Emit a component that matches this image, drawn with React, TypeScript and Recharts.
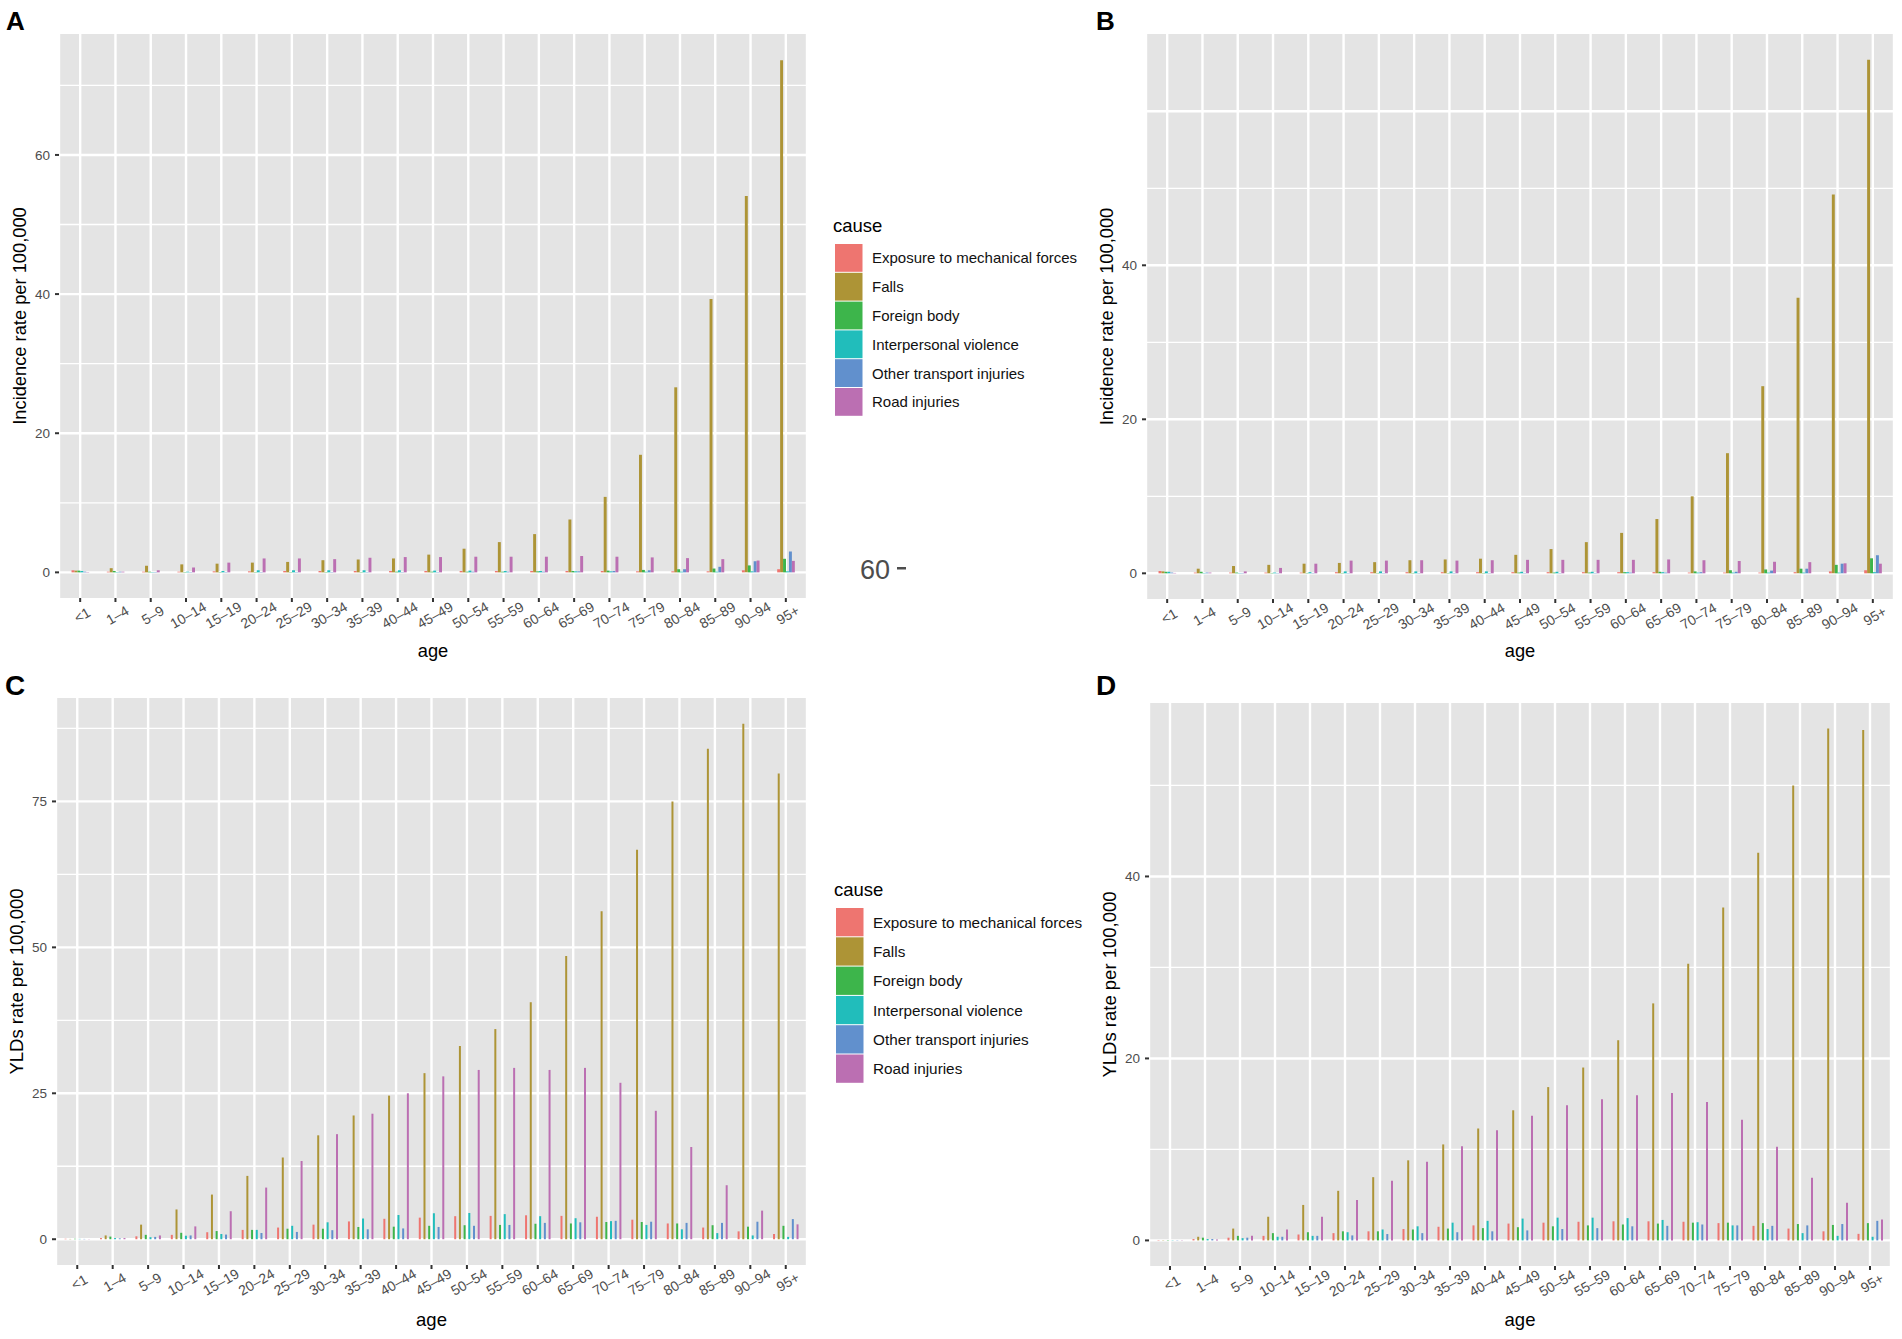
import React from 'react';
import { BarChart, Bar, XAxis, YAxis, CartesianGrid } from 'recharts';

const FONT = "'Liberation Sans', Arial, Helvetica, sans-serif";

const ages = ['<1', '1–4', '5–9', '10–14', '15–19', '20–24', '25–29', '30–34', '35–39', '40–44', '45–49', '50–54', '55–59', '60–64', '65–69', '70–74', '75–79', '80–84', '85–89', '90–94', '95+'];
const causes = ['Exposure to mechanical forces', 'Falls', 'Foreign body', 'Interpersonal violence', 'Other transport injuries', 'Road injuries'];
const causeKeys = ['exposure', 'falls', 'foreign', 'violence', 'transport', 'road'];
const causeColors = ['#EE7570', '#AD9436', '#3DB54B', '#21BDBB', '#6190CD', '#BB6FB2'];

// Panel A – incidence rate
const aExposure = [0.3, 0.1, 0.1, 0.1, 0.15, 0.15, 0.2, 0.2, 0.2, 0.2, 0.2, 0.2, 0.2, 0.2, 0.2, 0.2, 0.15, 0.15, 0.15, 0.3, 0.45];
const aFalls = [0.25, 0.6, 0.95, 1.15, 1.25, 1.4, 1.5, 1.75, 1.85, 2.0, 2.55, 3.4, 4.35, 5.5, 7.6, 10.85, 16.9, 26.6, 39.3, 54.1, 73.6];
const aForeign = [0.25, 0.2, 0.1, 0.05, 0.05, 0.05, 0.05, 0.05, 0.05, 0.1, 0.1, 0.1, 0.1, 0.15, 0.2, 0.25, 0.35, 0.45, 0.55, 1.0, 1.95];
const aViolence = [0.2, 0.05, 0.05, 0.1, 0.2, 0.3, 0.3, 0.3, 0.3, 0.3, 0.25, 0.25, 0.2, 0.2, 0.15, 0.15, 0.1, 0.1, 0.1, 0.15, 0.15];
const aTransport = [0.1, 0.1, 0.05, 0.05, 0.05, 0.05, 0.05, 0.05, 0.05, 0.05, 0.05, 0.1, 0.1, 0.1, 0.15, 0.2, 0.3, 0.45, 0.8, 1.6, 3.0];
const aRoad = [0.05, 0.1, 0.3, 0.7, 1.4, 2.0, 2.0, 1.9, 2.1, 2.2, 2.2, 2.25, 2.25, 2.25, 2.35, 2.25, 2.15, 2.05, 1.9, 1.7, 1.65];

// Panel B – incidence rate
const bExposure = [0.3, 0.1, 0.1, 0.1, 0.1, 0.15, 0.15, 0.15, 0.15, 0.15, 0.15, 0.15, 0.15, 0.15, 0.15, 0.1, 0.1, 0.1, 0.15, 0.25, 0.4];
const bFalls = [0.25, 0.6, 0.95, 1.1, 1.25, 1.35, 1.45, 1.7, 1.8, 1.9, 2.4, 3.15, 4.05, 5.25, 7.05, 10.0, 15.6, 24.3, 35.8, 49.2, 66.7];
const bForeign = [0.2, 0.2, 0.1, 0.05, 0.05, 0.05, 0.05, 0.05, 0.05, 0.05, 0.1, 0.1, 0.1, 0.15, 0.2, 0.25, 0.4, 0.5, 0.6, 1.1, 1.95];
const bViolence = [0.2, 0.05, 0.05, 0.1, 0.15, 0.25, 0.25, 0.25, 0.25, 0.25, 0.2, 0.2, 0.2, 0.15, 0.15, 0.1, 0.1, 0.1, 0.1, 0.1, 0.15];
const bTransport = [0.1, 0.1, 0.05, 0.05, 0.05, 0.05, 0.05, 0.05, 0.05, 0.05, 0.05, 0.05, 0.05, 0.1, 0.1, 0.15, 0.2, 0.35, 0.6, 1.25, 2.35];
const bRoad = [0.05, 0.1, 0.25, 0.7, 1.25, 1.65, 1.65, 1.7, 1.65, 1.7, 1.75, 1.75, 1.75, 1.75, 1.8, 1.7, 1.6, 1.5, 1.45, 1.3, 1.25];

// Panel C – YLDs rate
const cExposure = [0.08, 0.2, 0.5, 0.75, 1.2, 1.6, 2.0, 2.5, 3.05, 3.5, 3.7, 3.95, 4.0, 4.1, 4.0, 3.85, 3.35, 2.7, 2.0, 1.35, 0.9];
const cFalls = [0.05, 0.65, 2.5, 5.1, 7.65, 10.85, 14.0, 17.8, 21.2, 24.6, 28.45, 33.1, 36.0, 40.6, 48.5, 56.2, 66.7, 75.0, 84.0, 88.3, 79.8];
const cForeign = [0.08, 0.45, 0.75, 1.1, 1.4, 1.6, 1.8, 1.8, 2.1, 2.15, 2.3, 2.4, 2.45, 2.65, 2.7, 2.95, 2.95, 2.7, 2.4, 2.15, 2.3];
const cViolence = [0.06, 0.2, 0.35, 0.6, 0.9, 1.6, 2.3, 2.9, 3.55, 4.15, 4.45, 4.5, 4.3, 3.95, 3.6, 3.1, 2.45, 1.7, 1.05, 0.65, 0.4];
const cTransport = [0.05, 0.15, 0.4, 0.65, 0.8, 1.05, 1.25, 1.55, 1.7, 1.85, 2.1, 2.3, 2.45, 2.8, 2.9, 3.15, 3.0, 2.8, 2.8, 3.0, 3.45];
const cRoad = [0.03, 0.2, 0.65, 2.2, 4.8, 8.85, 13.4, 18.0, 21.5, 25.0, 27.9, 29.0, 29.35, 29.0, 29.35, 26.8, 22.0, 15.8, 9.25, 4.9, 2.55];

// Panel D – YLDs rate
const dExposure = [0.04, 0.15, 0.3, 0.5, 0.65, 0.8, 1.0, 1.25, 1.5, 1.65, 1.85, 1.95, 2.05, 2.1, 2.1, 2.05, 1.9, 1.6, 1.3, 1.0, 0.72];
const dFalls = [0.03, 0.4, 1.3, 2.6, 3.9, 5.45, 6.95, 8.8, 10.55, 12.3, 14.3, 16.85, 19.0, 22.0, 26.05, 30.4, 36.6, 42.6, 50.0, 56.25, 56.1];
const dForeign = [0.04, 0.3, 0.5, 0.8, 0.9, 1.0, 1.0, 1.2, 1.3, 1.35, 1.45, 1.55, 1.65, 1.75, 1.85, 1.95, 1.95, 1.9, 1.8, 1.7, 1.9];
const dViolence = [0.03, 0.15, 0.25, 0.4, 0.5, 0.9, 1.2, 1.55, 1.95, 2.15, 2.4, 2.5, 2.5, 2.45, 2.25, 2.0, 1.65, 1.25, 0.8, 0.5, 0.4];
const dTransport = [0.03, 0.15, 0.3, 0.4, 0.5, 0.55, 0.7, 0.8, 0.9, 1.0, 1.1, 1.25, 1.35, 1.55, 1.6, 1.75, 1.65, 1.6, 1.65, 1.8, 2.15];
const dRoad = [0.02, 0.1, 0.5, 1.2, 2.6, 4.45, 6.55, 8.65, 10.35, 12.1, 13.7, 14.85, 15.5, 15.95, 16.2, 15.2, 13.25, 10.3, 6.9, 4.15, 2.3];

// axis ticks
const ticksA = [0, 20, 40, 60];
const majorA = [0, 20, 40, 60];
const minorA = [10, 30, 50, 70];
const ticksB = [0, 20, 40];
const majorB = [0, 20, 40, 60];
const minorB = [10, 30, 50];
const ticksC = [0, 25, 50, 75];
const majorC = [0, 25, 50, 75];
const minorC = [12.5, 37.5, 62.5, 87.5];
const ticksD = [0, 20, 40];
const majorD = [0, 20, 40];
const minorD = [10, 30, 50];

function buildRows(series: number[][]) {
  return ages.map((age, i) => {
    const row: any = { age };
    causeKeys.forEach((k, j) => {
      row[k] = series[j][i];
    });
    return row;
  });
}

const AgeTick = (props: any) => {
  const { x, y, payload } = props;
  return (
    <text
      transform={`translate(${x + 2},${y + 11}) rotate(-30)`}
      textAnchor="middle"
      dominantBaseline="central"
      fontSize={14}
      fill="#4D4D4D"
      fontFamily={FONT}
    >
      {payload.value}
    </text>
  );
};

type PanelProps = {
  rect: [number, number, number, number];
  series: number[][];
  domain: [number, number];
  ticks: number[];
  major: number[];
  minor: number[];
  barSize: number;
  barGap: number;
};

function Panel({ rect, series, domain, ticks, major, minor, barSize, barGap }: PanelProps) {
  const [L, T, R, B] = rect;
  const w = R - L;
  const h = B - T;
  const pad = (w / 21.2) * 0.1;
  const data = buildRows(series);
  const YW = 50;
  return (
    <div style={{ position: 'absolute', left: L - YW, top: T - 10, width: w + YW + 10, height: h + 70 }}>
      <BarChart
        width={w + YW + 10}
        height={h + 70}
        data={data}
        margin={{ top: 10, right: 10, left: 0, bottom: 0 }}
        barSize={barSize}
        barGap={barGap}
      >
        <CartesianGrid fill="#E4E4E4" stroke="#FFFFFF" strokeWidth={1.3} vertical={false} horizontalValues={minor} />
        <CartesianGrid stroke="#FFFFFF" strokeWidth={2.4} horizontalValues={major} />
        <XAxis
          dataKey="age"
          type="category"
          interval={0}
          padding={{ left: pad, right: pad }}
          height={60}
          tickSize={4}
          tickMargin={2}
          tickLine={{ stroke: '#333333', strokeWidth: 2 }}
          axisLine={false}
          tick={(p: any) => <AgeTick {...p} />}
        />
        <YAxis
          type="number"
          domain={domain}
          ticks={ticks}
          allowDataOverflow
          width={YW}
          tickSize={4}
          tickMargin={5}
          tickLine={{ stroke: '#333333', strokeWidth: 2 }}
          axisLine={false}
          tick={{ fill: '#4D4D4D', fontSize: 13.5, fontFamily: FONT }}
        />
        {causeKeys.map((k, i) => (
          <Bar key={k} dataKey={k} fill={causeColors[i]} isAnimationActive={false} />
        ))}
      </BarChart>
    </div>
  );
}

function Legend({ x, titleY, keyTop, pitch, fontSize }: { x: number; titleY: number; keyTop: number; pitch: number; fontSize: number }) {
  return (
    <g>
      <text x={x - 2} y={titleY} fontSize={18.5} fontFamily={FONT} fill="#000">cause</text>
      {causes.map((c, i) => (
        <g key={c}>
          <rect x={x} y={keyTop + i * pitch} width={27.5} height={pitch - 1} fill={causeColors[i]} />
          <text
            x={x + 37}
            y={keyTop + i * pitch + (pitch - 1) / 2}
            dominantBaseline="central"
            fontSize={fontSize}
            fontFamily={FONT}
            fill="#111"
          >
            {c}
          </text>
        </g>
      ))}
    </g>
  );
}

export default function App() {
  return (
    <div style={{ position: 'absolute', left: 0, top: 0, width: 1902, height: 1339, background: '#FFFFFF', fontFamily: FONT }}>
      <Panel
        rect={[59, 34, 807, 598]}
        series={[aExposure, aFalls, aForeign, aViolence, aTransport, aRoad]}
        domain={[-3.685, 77.385]}
        ticks={ticksA}
        major={majorA}
        minor={minorA}
        barSize={2.94}
        barGap={0}
      />
      <Panel
        rect={[1146, 34, 1894, 599]}
        series={[bExposure, bFalls, bForeign, bViolence, bTransport, bRoad]}
        domain={[-3.335, 70.035]}
        ticks={ticksB}
        major={majorB}
        minor={minorB}
        barSize={2.94}
        barGap={0}
      />
      <Panel
        rect={[56, 698, 807, 1265]}
        series={[cExposure, cFalls, cForeign, cViolence, cTransport, cRoad]}
        domain={[-4.415, 92.715]}
        ticks={ticksC}
        major={majorC}
        minor={minorC}
        barSize={2}
        barGap={2.7}
      />
      <Panel
        rect={[1149, 703, 1891, 1266]}
        series={[dExposure, dFalls, dForeign, dViolence, dTransport, dRoad]}
        domain={[-2.8125, 59.0625]}
        ticks={ticksD}
        major={majorD}
        minor={minorD}
        barSize={2}
        barGap={2.7}
      />
      <svg
        width={1902}
        height={1339}
        style={{ position: 'absolute', left: 0, top: 0, pointerEvents: 'none' }}
      >
        {/* panel letters */}
        <text x={6} y={29.5} fontSize={26} fontWeight="bold" fontFamily={FONT} fill="#000">A</text>
        <text x={1096} y={29.5} fontSize={26} fontWeight="bold" fontFamily={FONT} fill="#000">B</text>
        <text x={5} y={695} fontSize={28} fontWeight="bold" fontFamily={FONT} fill="#000">C</text>
        <text x={1096} y={695} fontSize={28} fontWeight="bold" fontFamily={FONT} fill="#000">D</text>

        {/* y axis titles */}
        <text transform="translate(19,316) rotate(-90)" textAnchor="middle" dominantBaseline="central" fontSize={18.3} fontFamily={FONT} fill="#000">Incidence rate per 100,000</text>
        <text transform="translate(1106,316.5) rotate(-90)" textAnchor="middle" dominantBaseline="central" fontSize={18.3} fontFamily={FONT} fill="#000">Incidence rate per 100,000</text>
        <text transform="translate(16,981.5) rotate(-90)" textAnchor="middle" dominantBaseline="central" fontSize={18.5} fontFamily={FONT} fill="#000">YLDs rate per 100,000</text>
        <text transform="translate(1109,984.5) rotate(-90)" textAnchor="middle" dominantBaseline="central" fontSize={18.5} fontFamily={FONT} fill="#000">YLDs rate per 100,000</text>

        {/* x axis titles */}
        <text x={433} y={657} textAnchor="middle" fontSize={18.3} fontFamily={FONT} fill="#000">age</text>
        <text x={1520} y={657} textAnchor="middle" fontSize={18.3} fontFamily={FONT} fill="#000">age</text>
        <text x={431.5} y={1326} textAnchor="middle" fontSize={18.5} fontFamily={FONT} fill="#000">age</text>
        <text x={1520} y={1326} textAnchor="middle" fontSize={18.5} fontFamily={FONT} fill="#000">age</text>

        {/* legends */}
        <Legend x={835} titleY={232} keyTop={244} pitch={28.8} fontSize={15} />
        <Legend x={836} titleY={896} keyTop={908} pitch={29.3} fontSize={15.3} />

        {/* stray tick label */}
        <text x={860} y={579} fontSize={27} fontFamily={FONT} fill="#4D4D4D">60</text>
        <rect x={897} y={567} width={9} height={2.5} fill="#4D4D4D" />
      </svg>
    </div>
  );
}
